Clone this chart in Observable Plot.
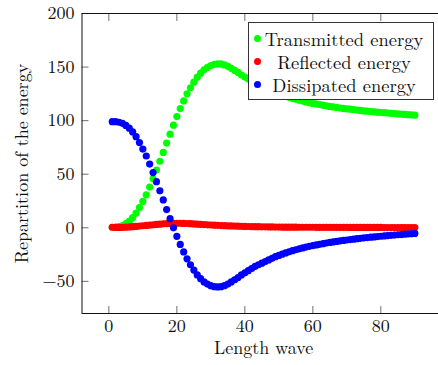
<!DOCTYPE html>
<html><head><meta charset="utf-8">
<script src="https://cdn.jsdelivr.net/npm/d3@7"></script>
<script src="https://cdn.jsdelivr.net/npm/@observablehq/plot@0.6"></script>
<style>
body{margin:0;background:#fff;}
#wrap{position:relative;width:438px;height:365px;overflow:hidden;background:#fff;}
#wrap svg text{font-family:"Latin Modern Roman","Liberation Serif",serif;}
#legend{position:absolute;left:247.5px;top:21.5px;width:184px;height:76.5px;border:1px solid #333;background:#fff;font-family:"Latin Modern Roman","Liberation Serif",serif;font-size:18.5px;color:#111;}
#legend .row{position:absolute;left:0;width:184px;height:23px;}
#legend .mk{position:absolute;left:5.5px;top:8px;width:7px;height:7px;border-radius:50%;}
#legend .tx{position:absolute;left:7px;right:0;text-align:center;top:0;line-height:23px;white-space:nowrap;}
</style></head><body><div id="wrap"></div><script>
const lengthWave = [1,2,3,4,5,6,7,8,9,10,11,12,13,14,15,16,17,18,19,20,21,22,23,24,25,26,27,28,29,30,31,32,33,34,35,36,37,38,39,40,41,42,43,44,45,46,47,48,49,50,51,52,53,54,55,56,57,58,59,60,61,62,63,64,65,66,67,68,69,70,71,72,73,74,75,76,77,78,79,80,81,82,83,84,85,86,87,88,89,90];
const transmitted = [0.5,0.7,1.2,2.1,3.9,6.2,9.5,13.7,18.9,24.6,30.8,38.0,45.7,53.9,62.1,70.3,79.1,87.4,95.8,103.8,111.3,118.4,125.0,130.7,135.9,140.6,144.3,147.5,149.7,151.4,152.6,152.9,152.9,152.0,150.7,148.8,146.9,145.0,142.6,140.7,138.8,136.9,135.0,133.5,132.1,130.6,129.2,127.7,126.3,125.1,124.0,122.9,121.8,120.8,119.9,119.1,118.3,117.5,116.8,116.1,115.6,115.0,114.4,113.8,113.3,112.8,112.3,111.8,111.4,111.0,110.7,110.3,109.9,109.5,109.1,108.8,108.5,108.2,107.9,107.6,107.4,107.1,106.8,106.6,106.3,106.1,105.8,105.6,105.4,105.1];
const reflected = [0.5,0.3,0.3,0.4,0.6,0.8,1.0,1.3,1.6,1.9,2.2,2.5,2.8,3.1,3.4,3.7,3.9,4.1,4.2,4.2,4.2,4.1,4.0,3.8,3.6,3.4,3.2,3.0,2.8,2.6,2.4,2.3,2.1,2.0,1.8,1.7,1.6,1.5,1.4,1.3,1.2,1.1,1.0,1.0,0.9,0.9,0.8,0.8,0.7,0.7,0.6,0.6,0.6,0.6,0.6,0.5,0.5,0.5,0.5,0.5,0.4,0.4,0.4,0.4,0.4,0.4,0.4,0.4,0.4,0.4,0.3,0.3,0.3,0.3,0.3,0.3,0.3,0.3,0.3,0.3,0.2,0.2,0.2,0.2,0.2,0.2,0.2,0.2,0.2,0.2];
const dissipated = [99,99,98.5,97.5,95.5,93,89.5,85,79.5,73.5,67,59.5,51.5,43,34.5,26,17,8.5,0,-8,-15.5,-22.5,-29,-34.5,-39.5,-44,-47.5,-50.5,-52.5,-54,-55,-55.2,-55,-54,-52.5,-50.5,-48.5,-46.5,-44,-42,-40,-38,-36,-34.5,-33,-31.5,-30,-28.5,-27,-25.8,-24.6,-23.5,-22.4,-21.4,-20.5,-19.6,-18.8,-18,-17.3,-16.6,-16,-15.4,-14.8,-14.2,-13.7,-13.2,-12.7,-12.2,-11.8,-11.4,-11,-10.6,-10.2,-9.8,-9.4,-9.1,-8.8,-8.5,-8.2,-7.9,-7.6,-7.3,-7.0,-6.8,-6.5,-6.3,-6.0,-5.8,-5.6,-5.3];
const seriesNames = ["Transmitted energy", "Reflected energy", "Dissipated energy"];
const seriesColors = ["#00ff00", "#ff0000", "#0000ff"];
const xTicks = [0, 20, 40, 60, 80];
const yTicks = [-50, 0, 50, 100, 150, 200];
const xLabel = "Length wave";
const yLabel = "Repartition of the energy";

const seriesValues = [transmitted, reflected, dissipated];
const rows = seriesValues.map((vals, k) => lengthWave.map((x, i) => ({x, y: vals[i], s: seriesNames[k]})));
const fmt = d => d < 0 ? "\u2212" + Math.abs(d) : String(d);
const serif = "'Latin Modern Roman', 'Liberation Serif', serif";

const chart = Plot.plot({
  width: 438, height: 365,
  marginLeft: 81.5, marginRight: -6.6, marginTop: 13, marginBottom: 52,
  x: {domain: [-7.9, 98.9]},
  y: {domain: [-80, 200]},
  style: {fontFamily: serif, fontSize: "18px", background: "white", color: "#111"},
  marks: [
    ...rows.map((r, k) => Plot.dot(r, {x: "x", y: "y", r: 3.6, fill: seriesColors[k], stroke: "none"})),
    Plot.axisX({anchor: "bottom", ticks: xTicks, tickSize: 0, tickPadding: 6, tickFormat: fmt, label: null, fontSize: 18}),
    Plot.axisY({anchor: "left", ticks: yTicks, tickSize: 0, tickPadding: 7.5, tickFormat: fmt, label: null, fontSize: 18}),
    Plot.axisX({anchor: "bottom", ticks: xTicks, tickSize: -7, fill: "none", label: null, strokeOpacity: 0.6}),
    Plot.axisX({anchor: "top", ticks: xTicks, tickSize: -7, fill: "none", label: null, strokeOpacity: 0.6}),
    Plot.axisY({anchor: "left", ticks: yTicks, tickSize: -7, fill: "none", label: null, strokeOpacity: 0.6}),
    Plot.axisY({anchor: "right", ticks: yTicks, tickSize: -7, fill: "none", label: null, strokeOpacity: 0.6}),
    Plot.frame({stroke: "#111", strokeWidth: 1}),
    Plot.text([xLabel], {frameAnchor: "bottom", dy: 40, lineAnchor: "bottom", fontSize: 18}),
    Plot.text([yLabel], {frameAnchor: "left", dx: -60, rotate: -90, lineAnchor: "middle", textAnchor: "middle", fontSize: 18})
  ]
});
const wrap = document.getElementById("wrap");
wrap.appendChild(chart);

const legend = document.createElement("div");
legend.id = "legend";
seriesNames.forEach((name, k) => {
  const row = document.createElement("div");
  row.className = "row";
  row.style.top = (4 + k * 23) + "px";
  const mk = document.createElement("div");
  mk.className = "mk";
  mk.style.background = seriesColors[k];
  const tx = document.createElement("div");
  tx.className = "tx";
  tx.textContent = name;
  row.appendChild(mk); row.appendChild(tx);
  legend.appendChild(row);
});
wrap.appendChild(legend);
</script></body></html>
